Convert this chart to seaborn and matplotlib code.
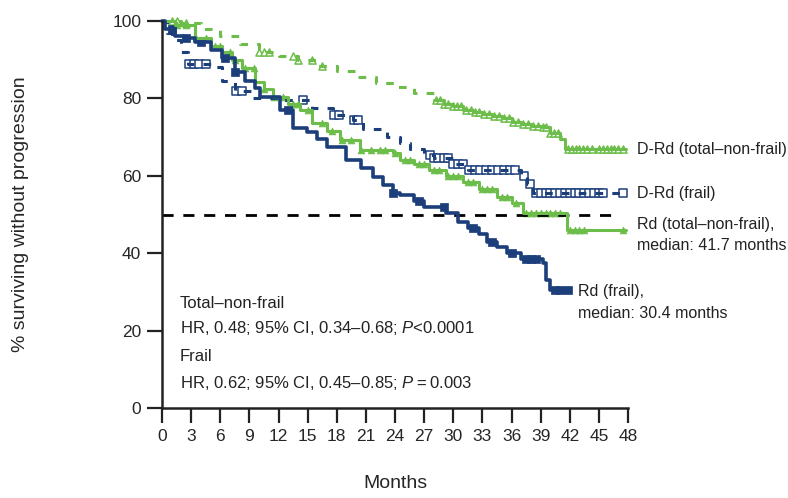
import numpy as np
import pandas as pd
import matplotlib
matplotlib.use("Agg")
import matplotlib.pyplot as plt
import seaborn as sns

# --- Kaplan-Meier step points (months, % surviving) ---
drd_nf_t = [0, 2, 4, 6, 8, 10, 12, 14, 16, 18, 20, 22, 24, 26, 28, 29, 30, 31, 32, 33,
            34, 35, 36, 37, 38, 39, 40, 41, 41.5, 47.8]
drd_nf_s = [100, 99.5, 98, 96, 94, 92, 91, 90, 88.5, 87, 85.5, 84, 83, 81.5, 79.5, 78.5,
            78, 77, 76.5, 76, 75.5, 75, 74, 73.5, 73, 72.5, 71, 69.5, 67, 67]

drd_f_t = [0, 0.5, 1, 2, 2.7, 5.5, 6.2, 7.5, 9.3, 12, 15.5, 17.6, 19.7, 20.7, 23.2, 24.5,
           25.5, 27, 28, 30, 31.5, 37, 37.6, 38.2, 47.5]
drd_f_s = [100, 97, 95, 92, 89, 88, 84.5, 82, 80, 79.6, 77.5, 75.7, 74.4, 72, 70, 68.5,
           67, 65.5, 64.5, 63, 61.5, 60, 58, 55.5, 55.5]

rd_nf_t = [0, 1.3, 3.4, 5, 6.2, 7.2, 8.2, 9.6, 10.5, 11.4, 13, 14.2, 15.5, 17, 18.3, 20.4,
           23.8, 24.5, 26, 27.5, 29.3, 31, 32.7, 34.5, 36, 37.2, 41.7, 47.8]
rd_nf_s = [100, 99, 95.6, 93.5, 92, 90, 87.8, 84.2, 82.5, 80.4, 78.5, 77, 73.6, 71.5,
           69.3, 66.7, 65.9, 64, 63, 61.5, 60, 58.5, 56.5, 54.5, 53, 50.4, 46, 46]

rd_f_t = [0, 0.3, 1.3, 2.3, 3.4, 5, 6.2, 7.5, 8.5, 9.6, 10.1, 12.2, 13.5, 14.9, 16, 17,
          19, 20.5, 21.7, 22.8, 23.8, 24.5, 26, 27, 29.3, 30.5, 31.5, 32.7, 33.5, 34.5,
          35.5, 37, 39.2, 39.6, 40, 42]
rd_f_s = [100, 98, 96, 95.5, 94.6, 92.5, 90.4, 86.8, 84.5, 82.7, 80.4, 77, 72.3, 71.3,
          69.5, 67.4, 64, 62, 59.7, 57.5, 55.5, 55, 53.5, 52, 50.4, 48, 46.5, 45, 43, 41.5,
          40, 38.5, 37.5, 33, 30.5, 30.5]

# censor marks (months)
drd_nf_cens = [1, 1.5, 2.5, 10, 10.5, 11, 13.5, 14, 15.5, 16.5, 28.2, 28.6, 29, 29.5, 30,
               30.4, 30.8, 31.3, 31.8, 32.2, 32.7, 33.2, 33.7, 34.2, 34.7, 35.2, 35.7, 36.2,
               36.7, 37.2, 37.7, 38.2, 38.7, 39.2, 39.6, 40, 40.4, 40.8, 41.8, 42.2, 42.6,
               43, 43.4, 43.8, 44.3, 45, 45.4, 45.8, 46.2, 46.6, 47, 47.5]
drd_f_cens = [2.8, 3.3, 3.8, 4.5, 7.6, 8.2, 14.5, 17.7, 18.2, 19.8, 20.2, 27.6, 28, 28.4,
              29, 29.5, 30, 30.5, 31, 31.6, 32.2, 32.8, 33.4, 34, 34.6, 35.2, 35.8, 36.4,
              37.3, 37.9, 38.5, 39, 39.5, 40, 40.5, 41, 41.5, 42, 42.5, 43, 43.5, 44, 44.5,
              45, 45.4, 47.5]
rd_nf_cens = [1.5, 2.5, 3.5, 4.5, 5.5, 6, 7, 7.5, 8.5, 9.5, 10.5, 11.5, 12.5, 13.5, 14,
              15, 16.5, 17.5, 18.5, 19.5, 20.5, 21.5, 22.5, 23, 24, 25, 25.5, 26.5, 27,
              28, 28.5, 29.5, 30, 30.5, 31.5, 32, 33, 33.5, 34, 35, 35.5, 36.5, 37.5,
              38, 38.5, 39, 39.5, 40, 40.5, 41, 42, 42.5, 43, 43.5, 47.5]
rd_f_cens = [1, 2.5, 4, 6.5, 7.5, 13, 23.8, 26.5, 29, 32, 34, 36, 37.5, 38, 38.5, 40.5,
             41, 41.8]

GREEN = "#6cbd4a"
NAVY = "#1c3f7c"


def step_value(times, surv, t):
    idx = np.searchsorted(times, t, side="right") - 1
    return np.asarray(surv)[idx]


sns.set_theme(style="ticks")
plt.rcParams["font.family"] = ["Liberation Sans", "DejaVu Sans"]
plt.rcParams["mathtext.fontset"] = "custom"
plt.rcParams["mathtext.it"] = "Liberation Sans:italic"
plt.rcParams["mathtext.rm"] = "Liberation Sans"

fig = plt.figure(figsize=(7.88, 4.98), dpi=100)
ax = fig.add_axes([0.2056, 0.1807, 0.5914, 0.7771])

# D-Rd (total-non-frail): dashed before ~28 months, solid after
cut = drd_nf_t.index(28)
sns.lineplot(x=drd_nf_t[:cut + 1], y=drd_nf_s[:cut + 1], drawstyle="steps-post",
             estimator=None, color=GREEN, lw=2.2, ls=(0, (2.5, 3)), ax=ax)
sns.lineplot(x=drd_nf_t[cut:], y=drd_nf_s[cut:], drawstyle="steps-post",
             estimator=None, color=GREEN, lw=2.2, ax=ax)
# D-Rd (frail): dashed
sns.lineplot(x=drd_f_t, y=drd_f_s, drawstyle="steps-post", estimator=None,
             color=NAVY, lw=2.2, ls=(0, (2.5, 3)), ax=ax)
# Rd curves: solid
sns.lineplot(x=rd_nf_t, y=rd_nf_s, drawstyle="steps-post", estimator=None,
             color=GREEN, lw=2.2, ax=ax)
sns.lineplot(x=rd_f_t, y=rd_f_s, drawstyle="steps-post", estimator=None,
             color=NAVY, lw=2.6, ax=ax)

# censor marks
sns.scatterplot(x=drd_nf_cens, y=step_value(drd_nf_t, drd_nf_s, drd_nf_cens),
                marker="^", s=26, facecolor="white", edgecolor=GREEN, linewidth=1.1, ax=ax)
sns.scatterplot(x=drd_f_cens, y=step_value(drd_f_t, drd_f_s, drd_f_cens),
                marker="s", s=26, facecolor="white", edgecolor=NAVY, linewidth=1.1, ax=ax)
sns.scatterplot(x=rd_nf_cens, y=step_value(rd_nf_t, rd_nf_s, rd_nf_cens),
                marker="^", s=24, color=GREEN, edgecolor=GREEN, linewidth=0.5, ax=ax)
sns.scatterplot(x=rd_f_cens, y=step_value(rd_f_t, rd_f_s, rd_f_cens),
                marker="s", s=28, color=NAVY, edgecolor=NAVY, linewidth=0.5, ax=ax)

# median reference line
ax.plot([0, 47.2], [50, 50], color="black", lw=2, ls=(0, (4, 3.5)), zorder=1)

ax.set_xlim(0, 48)
ax.set_ylim(0, 100)
ax.set_xticks(range(0, 49, 3))
ax.set_yticks(range(0, 101, 20))
ax.tick_params(axis="both", length=11, width=1.6, labelsize=12.5, pad=4, color="#222222")
for side in ["left", "bottom"]:
    ax.spines[side].set_linewidth(1.8)
    ax.spines[side].set_color("#222222")
sns.despine(ax=ax)
ax.set_xlabel("Months", fontsize=14)
ax.set_ylabel("% surviving without progression", fontsize=14)
ax.xaxis.set_label_coords(0.5, -0.172)
ax.yaxis.set_label_coords(-0.285, 0.5)
for ln in ax.get_lines():
    ln.set_clip_on(False)
for coll in ax.collections:
    coll.set_clip_on(False)

# curve labels
lbl = dict(fontsize=11.5, va="center", ha="left", color="#222222", clip_on=False)
ax.text(48.9, 66.7, "D-Rd (total\u2013non-frail)", **lbl)
ax.text(48.9, 55.5, "D-Rd (frail)", **lbl)
ax.text(48.9, 47.5, "Rd (total\u2013non-frail),", **lbl)
ax.text(48.9, 41.9, "median: 41.7 months", **lbl)
ax.text(42.8, 30.0, "Rd (frail),", **lbl)
ax.text(42.8, 24.5, "median: 30.4 months", **lbl)

# hazard ratio box
hr = dict(lbl, fontsize=12)
ax.text(1.85, 27.0, "Total\u2013non-frail", **hr)
ax.text(1.85, 20.7, "HR, 0.48; 95% CI, 0.34\u20130.68; $\\mathit{P}$<0.0001", **hr)
ax.text(1.85, 13.2, "Frail", **hr)
ax.text(1.85, 6.5, "HR, 0.62; 95% CI, 0.45\u20130.85; $\\mathit{P}$\u2009=\u20090.003", **hr)

fig.savefig("out.png", dpi=100)
